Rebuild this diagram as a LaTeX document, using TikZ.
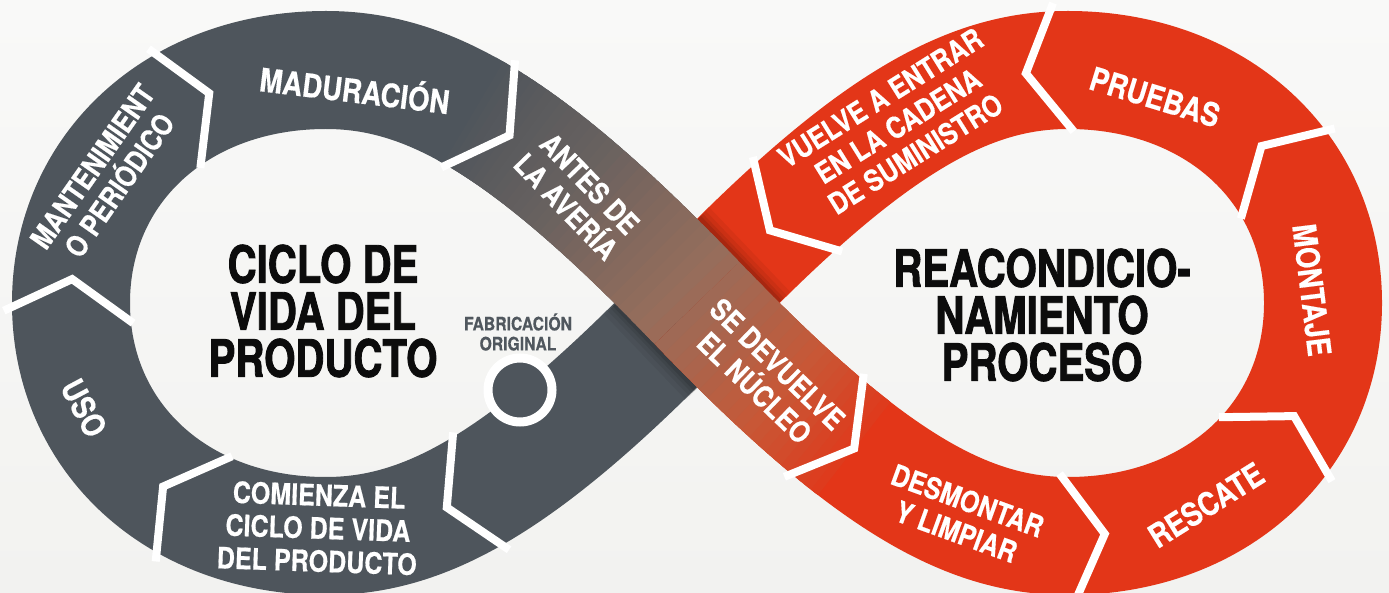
\documentclass[tikz,border=0pt]{standalone}
\usepackage{fontspec}
\setmainfont{TeX Gyre Heros}
\newfontfamily\bandfont{TeX Gyre Heros}[FakeStretch=0.85,FakeBold=0.4]
\newfontfamily\titlefont{TeX Gyre Heros}[FakeStretch=0.78,FakeBold=1.6]
\usetikzlibrary{calc}
\definecolor{bandgray}{RGB}{78,85,92}
\definecolor{bandred}{RGB}{227,54,24}
\definecolor{bgtop}{RGB}{249,249,248}
\definecolor{bgbot}{RGB}{242,242,240}
\definecolor{labgray}{RGB}{80,87,94}
\definecolor{titlecol}{RGB}{12,12,12}
\newcommand{\setgc}[1]{%
  \pgfmathtruncatemacro{\cR}{#1<0.3 ? 78+27*#1/0.3 : (#1<0.55 ? 105+45*(#1-0.3)/0.25 : (#1<0.8 ? 150+50*(#1-0.55)/0.25 : 200+24*(#1-0.8)/0.2))}%
  \pgfmathtruncatemacro{\cG}{#1<0.3 ? 85+13*#1/0.3 : (#1<0.55 ? 98+12*(#1-0.3)/0.25 : (#1<0.8 ? 110-22*(#1-0.55)/0.25 : 88-30*(#1-0.8)/0.2))}%
  \pgfmathtruncatemacro{\cB}{#1<0.3 ? 92+4*#1/0.3 : (#1<0.55 ? 96-4*(#1-0.3)/0.25 : (#1<0.8 ? 92-37*(#1-0.55)/0.25 : 55-27*(#1-0.8)/0.2))}%
  \definecolor{gc}{RGB}{\cR,\cG,\cB}%
}
\tikzset{
  band/.style={line width=118pt},
  lab/.style={text=white, font=\bandfont\bfseries\fontsize{29.5}{33}\selectfont, align=center, inner sep=0pt},
  lab1/.style={lab, font=\bandfont\bfseries\fontsize{32.5}{34}\selectfont},
  ttl/.style={text=titlecol, font=\titlefont\bfseries\fontsize{51.5}{47}\selectfont, align=center, inner sep=0pt},
  chv/.style={pos=#1, sloped, allow upside down},
  chev/.pic={\draw[white, line width=8pt, line join=miter, miter limit=10] (-38,65) -- (0,0) -- (-38,-65);},
}
\begin{document}
\begin{tikzpicture}[x=1pt,y=-1pt]
\useasboundingbox (0,0) rectangle (1389,593);
\shade[top color=bgtop, bottom color=bgbot] (0,0) rectangle (1389,593);
\coordinate (C) at (697,303);
\coordinate (TL) at (326,70);
\coordinate (LL) at (71,303);
\coordinate (BL) at (326,536);
\coordinate (TR) at (1068,70);
\coordinate (RR) at (1323,303);
\coordinate (BR) at (1068,536);
% left loop (gray)
\draw[bandgray, band] (C) .. controls (524.5,483) and (426,536) .. (BL)
  .. controls (178.1,536) and (71,438.1) .. (LL)
  .. controls (71,167.9) and (178.1,70) .. (TL)
  .. controls (426,70) and (524.5,123) .. (C);
% right loop (red)
\draw[bandred, band] (C) .. controls (869.5,483) and (968,536) .. (BR)
  .. controls (1215.9,536) and (1323,438.1) .. (RR)
  .. controls (1323,167.9) and (1215.9,70) .. (TR)
  .. controls (968,70) and (869.5,123) .. (C);
% shadow of the front band on the back band
\begin{scope}
  \clip (836.5,242.7) -- (754.3,161.1) -- (557.5,363.3) -- (642.7,444.9) -- cycle;
  \foreach \w/\o in {150/0.05,140/0.06,132/0.08,126/0.10}
    \draw[black, opacity=\o, line width=\w pt] ($(C)+(-83,-86.6)$) -- ($(C)+(83,86.6)$);
\end{scope}
% front band with gradient
\foreach \i in {0,...,29}{
  \pgfmathsetmacro{\gta}{0.45+0.55*\i/30}
  \pgfmathsetmacro{\gtb}{min(1,0.45+0.55*(\i+1.8)/30)}
  \pgfmathsetmacro{\gs}{0.585*(\gta+0.009-0.45)/0.55}
  \setgc{\gs}
  \path (TL) .. controls (426,70) and (524.5,123) .. (C) coordinate[pos=\gta] (ga) coordinate[pos=\gtb] (gb);
  \draw[gc, band] (ga) -- (gb);
}
\foreach \i in {0,...,19}{
  \pgfmathsetmacro{\gta}{0.35*\i/20}
  \pgfmathsetmacro{\gtb}{min(0.35,0.35*(\i+1.8)/20)}
  \pgfmathsetmacro{\gs}{min(1,0.585+0.415*(\gta+0.009)/0.35)}
  \setgc{\gs}
  \path (C) .. controls (869.5,483) and (968,536) .. (BR) coordinate[pos=\gta] (ga) coordinate[pos=\gtb] (gb);
  \draw[gc, band] (ga) -- (gb);
}
% dividers
\path (TL) .. controls (426,70) and (524.5,123) .. (C) pic[chv=0.57] {chev};
\path (LL) .. controls (71,167.9) and (178.1,70) .. (TL) pic[chv=0.06] {chev} pic[chv=0.71] {chev};
\path (BL) .. controls (178.1,536) and (71,438.1) .. (LL) pic[chv=0.43] {chev};
\path (C) .. controls (524.5,483) and (426,536) .. (BL) pic[chv=0.61] {chev};
\path (TR) .. controls (968,70) and (869.5,123) .. (C) pic[chv=0.14] {chev} pic[chv=0.85] {chev};
\path (RR) .. controls (1323,167.9) and (1215.9,70) .. (TR) pic[chv=0.46] {chev};
\path (BR) .. controls (1215.9,536) and (1323,438.1) .. (RR) pic[chv=0.085] {chev} pic[chv=0.69] {chev};
\path (C) .. controls (869.5,483) and (968,536) .. (BR) pic[chv=0.35] {chev};
% original manufacturing point
\node[circle, draw=white, line width=9pt, fill=bandgray, minimum size=64pt, inner sep=0pt] (fab) at (520,390) {};
% labels
\node[lab1, rotate=-7] (mad) at (355,88) {MADURACIÓN};
\node[lab, rotate=55] (mant) at (106,176) {MANTENIMIENT\\O PERIÓDICO};
\node[lab1, rotate=-62] (uso) at (84,408) {USO};
\node[lab, rotate=-2] (com) at (318,528) {COMIENZA EL\\CICLO DE VIDA\\DEL PRODUCTO};
\node[lab, rotate=-46] (ant) at (578,195) {ANTES DE\\LA AVERÍA};
\node[lab, rotate=-44] (sed) at (766,376) {SE DEVUELVE\\EL NÚCLEO};
\node[lab, rotate=-20] (des) at (962,516) {DESMONTAR\\Y LIMPIAR};
\node[lab1, rotate=32] (res) at (1206,505) {RESCATE};
\node[lab1, rotate=-83] (mon) at (1312,290) {MONTAJE};
\node[lab1, rotate=-17] (pru) at (1155,97) {PRUEBAS};
\node[lab, rotate=32] (vue) at (898,126) {VUELVE A ENTRAR\\EN LA CADENA\\DE SUMINISTRO};
\node[text=labgray, font=\bandfont\bfseries\fontsize{18.5}{20}\selectfont, align=center, inner sep=0pt] (fabt) at (518,332) {FABRICACIÓN\\ORIGINAL};
\node[ttl] (t1) at (323,311) {CICLO DE\\VIDA DEL\\PRODUCTO};
\node[ttl, font=\titlefont\bfseries\fontsize{51.5}{47}\selectfont] (t2) at (1042,315) {REACONDICIO-\\NAMIENTO\\PROCESO};
\end{tikzpicture}
\end{document}
